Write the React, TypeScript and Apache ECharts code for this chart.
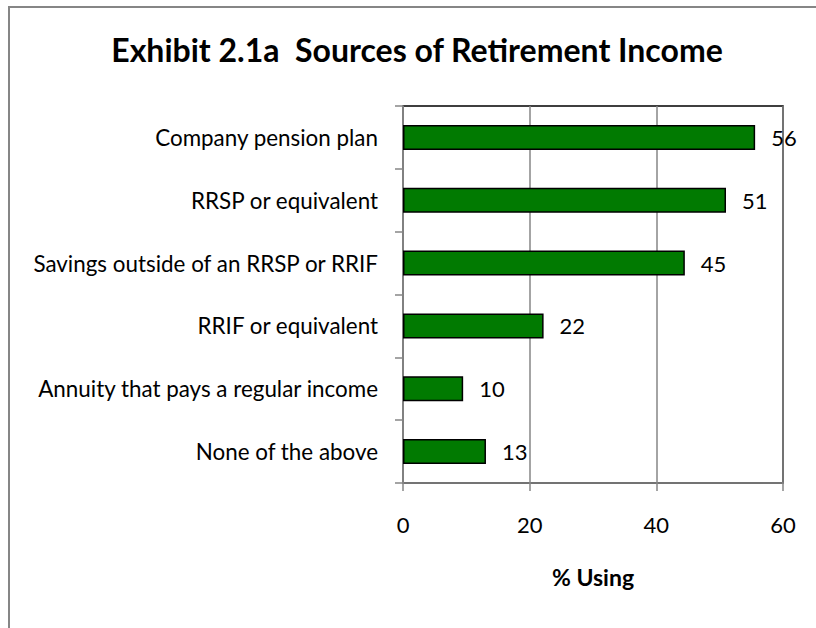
import React, { useEffect, useRef } from "react";
import * as echarts from "echarts";

const categories = [
  "Company pension plan",
  "RRSP or equivalent",
  "Savings outside of an RRSP or RRIF",
  "RRIF or equivalent",
  "Annuity that pays a regular income",
  "None of the above",
];
const values = [55.6, 51.0, 44.5, 22.2, 9.5, 13.1];
const xTicks = { min: 0, max: 60, interval: 20 };
const titleText = "Exhibit 2.1a  Sources of Retirement Income";
const xAxisTitle = "% Using";

const FONT = "Lato";

export default function App() {
  const ref = useRef<HTMLDivElement>(null);
  useEffect(() => {
    document.documentElement.style.overflow = "hidden";
    document.body.style.overflow = "hidden";
    document.body.style.margin = "0";
    if (!ref.current) return;
    const chart = echarts.init(ref.current, null, { renderer: "svg" });
    chart.setOption({
      animation: false,
      backgroundColor: "#fff",
      textStyle: { fontFamily: FONT },
      title: {
        text: titleText,
        left: 412,
        textAlign: "center",
        top: 28,
        textStyle: { fontFamily: FONT, fontWeight: "bold", fontSize: 32, color: "#000" },
      },
      graphic: [
        {
          type: "line",
          shape: { x1: 9, y1: 7, x2: 816, y2: 7 },
          style: { stroke: "#868686", lineWidth: 2 },
          silent: true,
        },
        {
          type: "line",
          shape: { x1: 9, y1: 6, x2: 9, y2: 628 },
          style: { stroke: "#868686", lineWidth: 2 },
          silent: true,
        },
      ],
      grid: {
        left: 403,
        right: 33,
        top: 106,
        bottom: 145,
        show: true,
        borderColor: "#000",
        borderWidth: 1.5,
        containLabel: false,
      },
      xAxis: {
        type: "value",
        min: xTicks.min,
        max: xTicks.max,
        interval: xTicks.interval,
        axisLine: { show: true, lineStyle: { color: "#868686", width: 1.5 } },
        axisTick: { show: true, length: 8, lineStyle: { color: "#868686", width: 1.5 } },
        splitLine: { show: true, lineStyle: { color: "#868686", width: 1.5 } },
        axisLabel: { fontFamily: FONT, fontSize: 22, color: "#000", margin: 30 },
        name: xAxisTitle,
        nameLocation: "middle",
        nameGap: 82,
        nameTextStyle: { fontFamily: FONT, fontWeight: "bold", fontSize: 23, color: "#000" },
      },
      yAxis: {
        type: "category",
        inverse: true,
        data: categories,
        axisLine: { show: true, lineStyle: { color: "#868686", width: 1.5 } },
        axisTick: { show: true, length: 8, lineStyle: { color: "#868686", width: 1.5 } },
        axisLabel: { fontFamily: FONT, fontSize: 22.4, color: "#000", margin: 25 },
      },
      series: [
        {
          type: "bar",
          data: values,
          barWidth: 25,
          itemStyle: { color: "#017A01", borderColor: "#000", borderWidth: 1.5 },
          label: {
            show: true,
            position: "right",
            distance: 16,
            fontFamily: FONT,
            fontSize: 22,
            color: "#000",
            formatter: (p: any) => String(Math.round(p.value)),
          },
        },
      ],
    });
    return () => chart.dispose();
  }, []);
  return (
    <div
      ref={ref}
      style={{ position: "fixed", left: 0, top: 0, width: 816, height: 628 }}
    />
  );
}
